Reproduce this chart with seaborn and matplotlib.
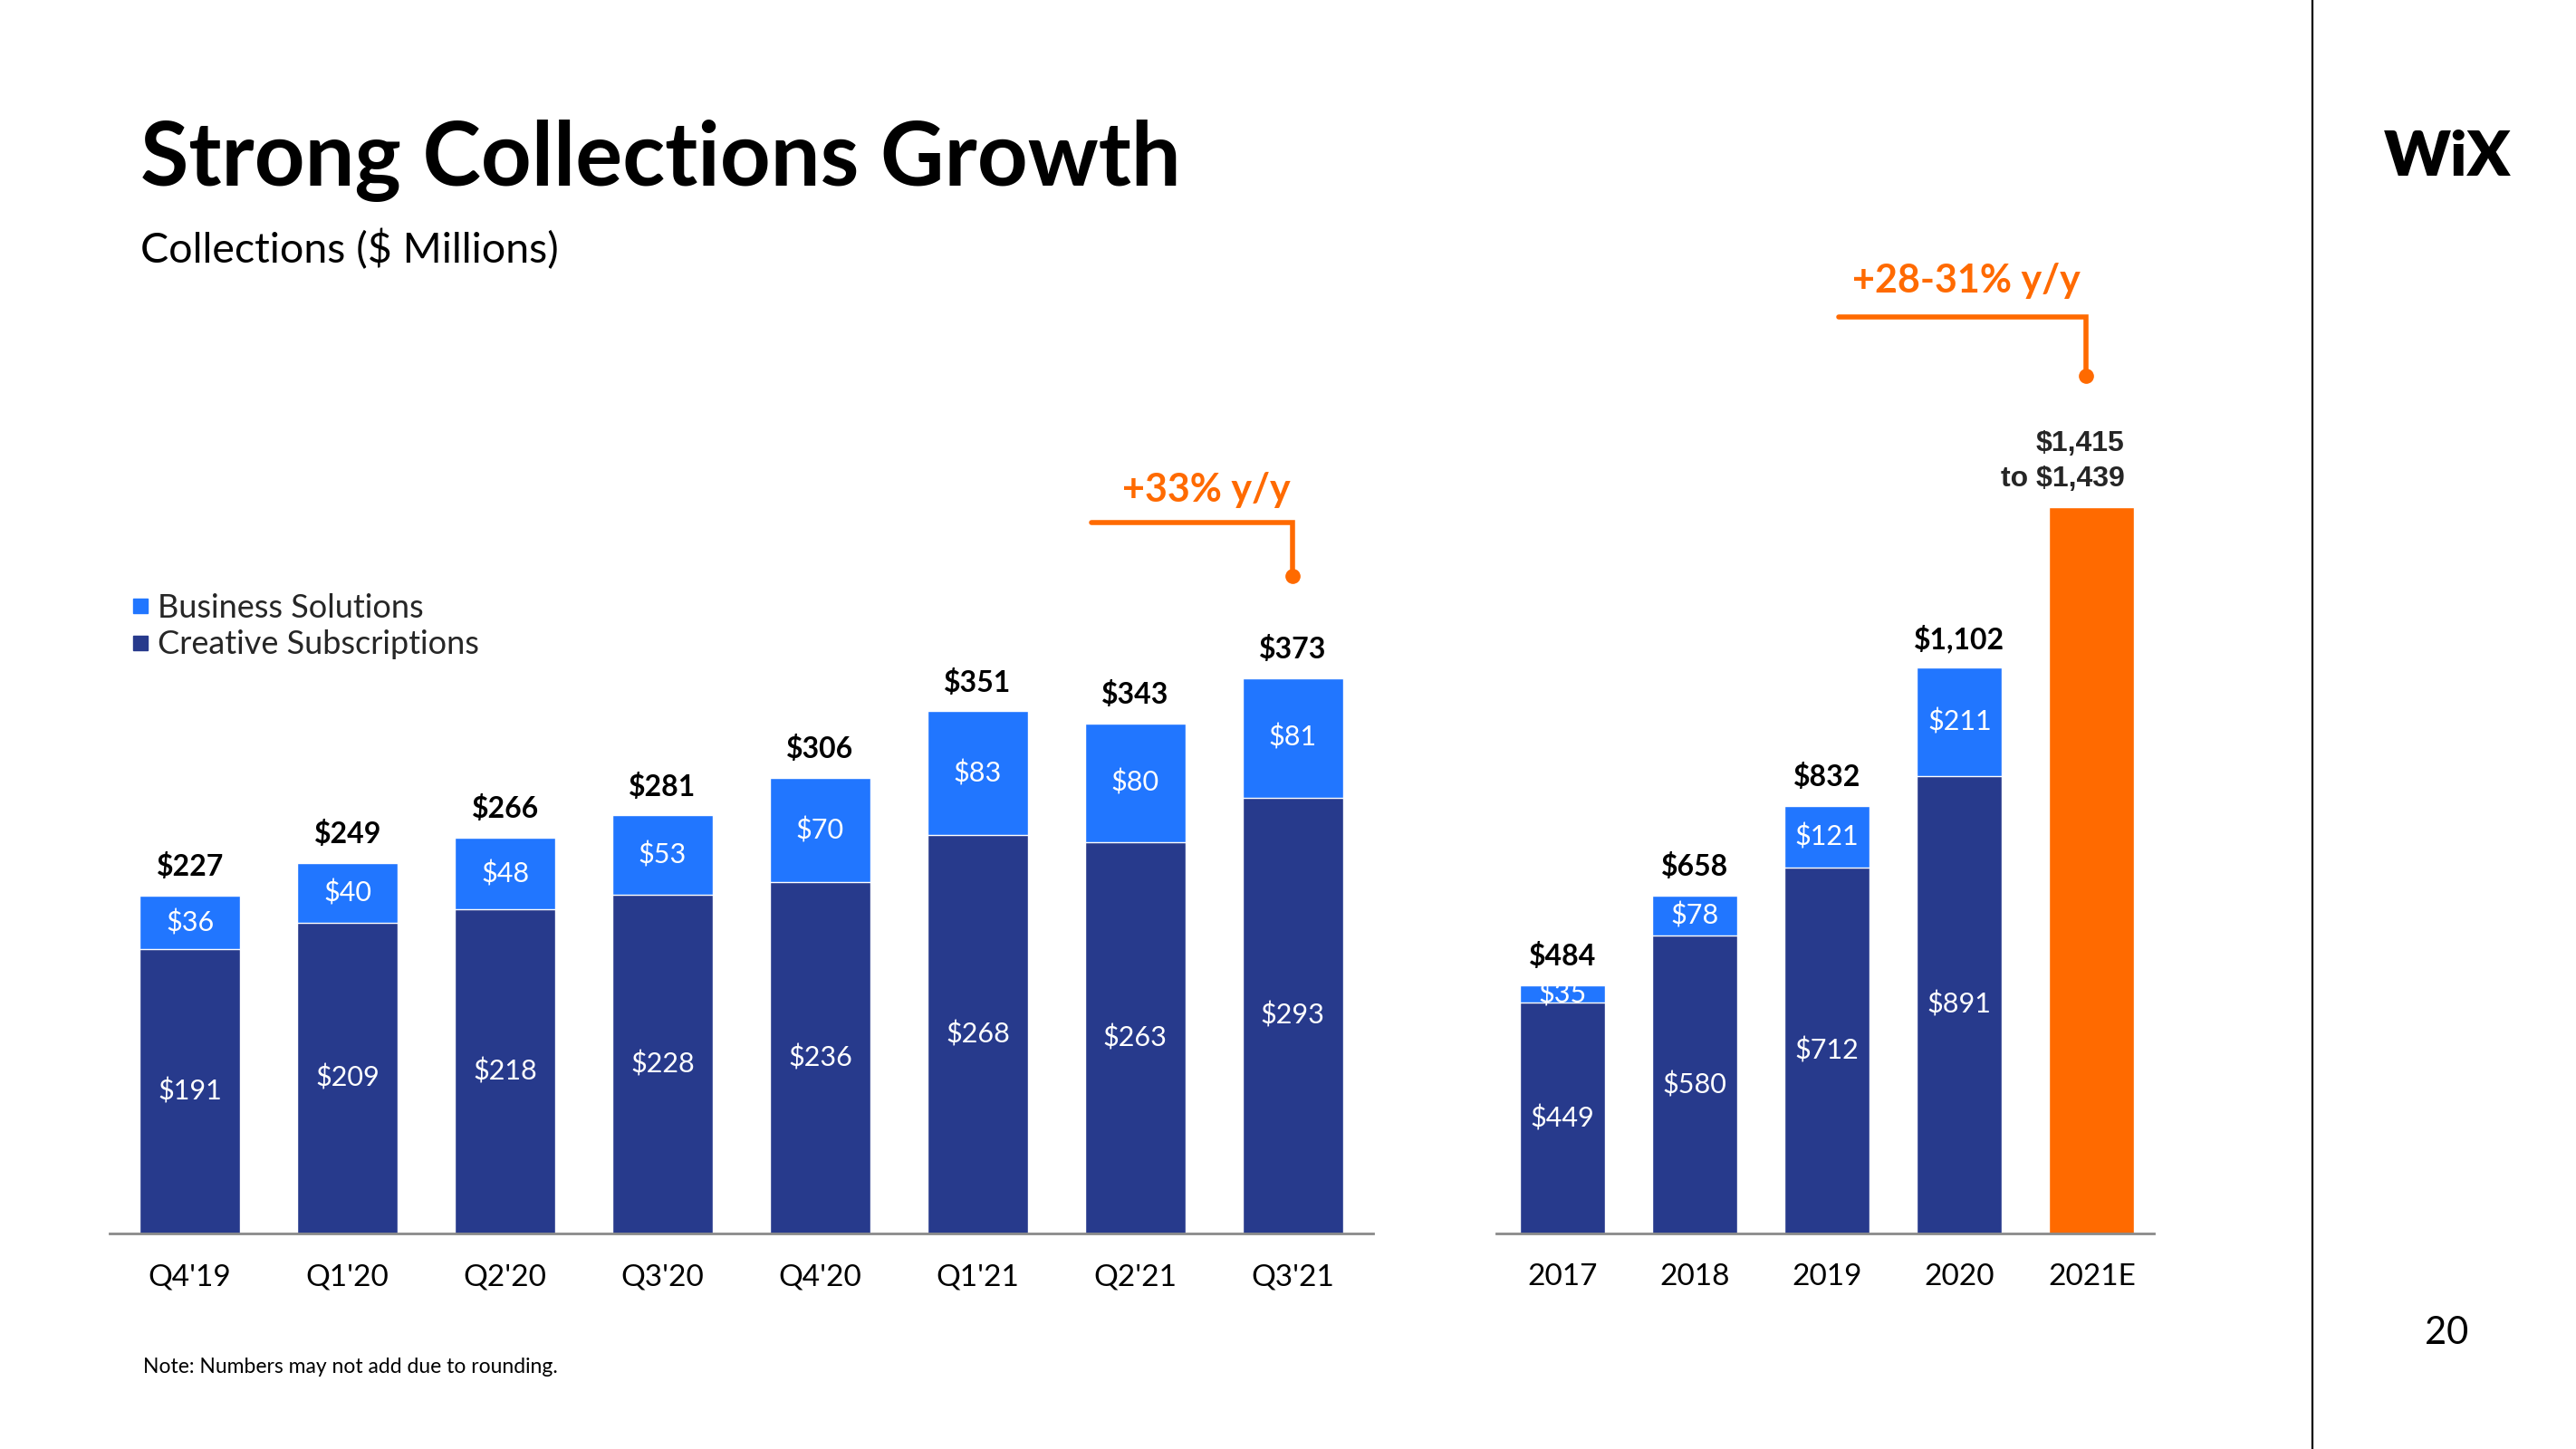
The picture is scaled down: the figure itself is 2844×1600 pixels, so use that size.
import matplotlib
matplotlib.use("Agg")
import matplotlib.pyplot as plt
from matplotlib.lines import Line2D
import seaborn as sns
import pandas as pd

# ── Data ────────────────────────────────────────────────────────────────────
QUARTERS = ["Q4'19", "Q1'20", "Q2'20", "Q3'20", "Q4'20", "Q1'21", "Q2'21", "Q3'21"]
Q_TOTAL = [227, 249, 266, 281, 306, 351, 343, 373]
Q_BUSINESS = [36, 40, 48, 53, 70, 83, 80, 81]
Q_CREATIVE = [191, 209, 218, 228, 236, 268, 263, 293]

YEARS = ["2017", "2018", "2019", "2020", "2021E"]
Y_TOTAL = [484, 658, 832, 1102, 1415]
Y_BUSINESS = [35, 78, 121, 211]
Y_CREATIVE = [449, 580, 712, 891]
GUIDANCE = (1415, 1439)

# ── Colours ─────────────────────────────────────────────────────────────────
NAVY = "#273A8C"
BLUE = "#2176FF"
ORANGE = "#FF6A00"
AXIS_GREY = "#8A8A8A"

sns.set_theme(style="white")
plt.rcParams["font.family"] = ["Lato", "DejaVu Sans"]

fig = plt.figure(figsize=(28.44, 16), dpi=100)
ax_q = fig.add_axes([0.04255, 0.14875, 0.4905, 0.82125])
ax_y = fig.add_axes([0.58087, 0.14875, 0.25527, 0.815])


def style_axis(ax):
    for side in ["top", "right", "left"]:
        ax.spines[side].set_visible(False)
    ax.spines["bottom"].set_color(AXIS_GREY)
    ax.spines["bottom"].set_linewidth(2)
    ax.set_xlabel("")
    ax.set_ylabel("")
    ax.set_yticks([])
    ax.tick_params(axis="x", length=0, labelsize=24, pad=24, labelcolor="black")
    ax.patch.set_alpha(0)


def stacked(ax, cats, totals, creative, business, colors, width):
    # totals drawn first (business colour), creative laid on top from the baseline
    sns.barplot(x=cats, y=totals, hue=cats, palette=colors, order=cats,
                width=width, legend=False, saturation=1, ax=ax)
    n = len(creative)
    sns.barplot(x=cats[:n], y=creative, order=cats, color=NAVY,
                width=width, saturation=1, ax=ax)
    for i in range(n):
        ax.text(i, creative[i] / 2, f"${creative[i]:,}", ha="center", va="center",
                color="white", fontsize=22)
        ax.text(i, creative[i] + business[i] / 2, f"${business[i]:,}", ha="center",
                va="center", color="white", fontsize=22)
    for i in range(n):
        ax.annotate(f"${totals[i]:,}", (i, totals[i]), xytext=(0, 23),
                    textcoords="offset points", ha="center", va="center",
                    fontsize=23, fontweight="bold", color="black")


def bracket(ax, x0, x1, y_line, y_dot, y_text, x_text, label):
    ax.plot([x0, x1, x1], [y_line, y_line, y_dot], color=ORANGE, lw=4,
            solid_joinstyle="miter", clip_on=False)
    ax.plot([x1], [y_dot], "o", color=ORANGE, markersize=11, clip_on=False)
    ax.text(x_text, y_text, label, ha="center", va="center", color=ORANGE,
            fontsize=31, fontweight="bold")


# ── Quarterly ───────────────────────────────────────────────────────────────
stacked(ax_q, QUARTERS, Q_TOTAL, Q_CREATIVE, Q_BUSINESS, [BLUE] * len(QUARTERS), 0.64)
ax_q.set_xlim(-0.51, 7.51)
ax_q.set_ylim(0, 800)
style_axis(ax_q)
last = Q_TOTAL[-1]
bracket(ax_q, 5.72, 7, last + 105, last + 69, last + 127, 6.45, "+33% y/y")

# ── Annual ──────────────────────────────────────────────────────────────────
stacked(ax_y, YEARS, Y_TOTAL, Y_CREATIVE, Y_BUSINESS, [BLUE] * 4 + [ORANGE], 0.645)
ax_y.set_xlim(-0.5, 4.47)
ax_y.set_ylim(0, 2300)
style_axis(ax_y)
ax_y.annotate(f"${GUIDANCE[0]:,}\nto ${GUIDANCE[1]:,}", (4, Y_TOTAL[-1]),
              xytext=(26, 36), textcoords="offset points", ha="right", va="center",
              multialignment="right", linespacing=1.4, fontsize=23,
              fontweight="bold", family=["Liberation Sans", "DejaVu Sans"])
bracket(ax_y, 2.09, 3.96, 1785, 1670, 1855, 3.05, "+28-31% y/y")

# ── Legend ──────────────────────────────────────────────────────────────────
handles = [Line2D([], [], marker="s", ls="", color=BLUE, markersize=12),
           Line2D([], [], marker="s", ls="", color=NAVY, markersize=12)]
fig.legend(handles, ["Business Solutions", "Creative Subscriptions"],
           loc="upper left", bbox_to_anchor=(0.0515, 1 - 655 / 1600),
           frameon=False, fontsize=26, handlelength=0.5, handletextpad=0.25,
           labelspacing=0.2, borderpad=0, borderaxespad=0)

# ── Slide furniture ─────────────────────────────────────────────────────────
fig.text(0.0545, 1 - 205 / 1600, "Strong Collections Growth", fontsize=70,
         fontweight="bold", va="baseline", color="black")
fig.text(0.0545, 1 - 290 / 1600, "Collections ($ Millions)", fontsize=33.5,
         va="baseline", color="black")
fig.text(0.0556, 1 - 1516 / 1600, "Note: Numbers may not add due to rounding.",
         fontsize=16.5, va="baseline", color="black")
fig.text(2701 / 2844, 1 - 1472 / 1600, "20", fontsize=30, ha="center",
         va="center", color="black")
fig.text(2702 / 2844, 1 - 174 / 1600, "WiX", fontsize=50, fontweight="heavy",
         ha="center", va="center", color="black")
fig.add_artist(Line2D([2553 / 2844] * 2, [0, 1], transform=fig.transFigure,
                      color="black", lw=1.6))

fig.savefig("out.png", dpi=100, facecolor="white")
